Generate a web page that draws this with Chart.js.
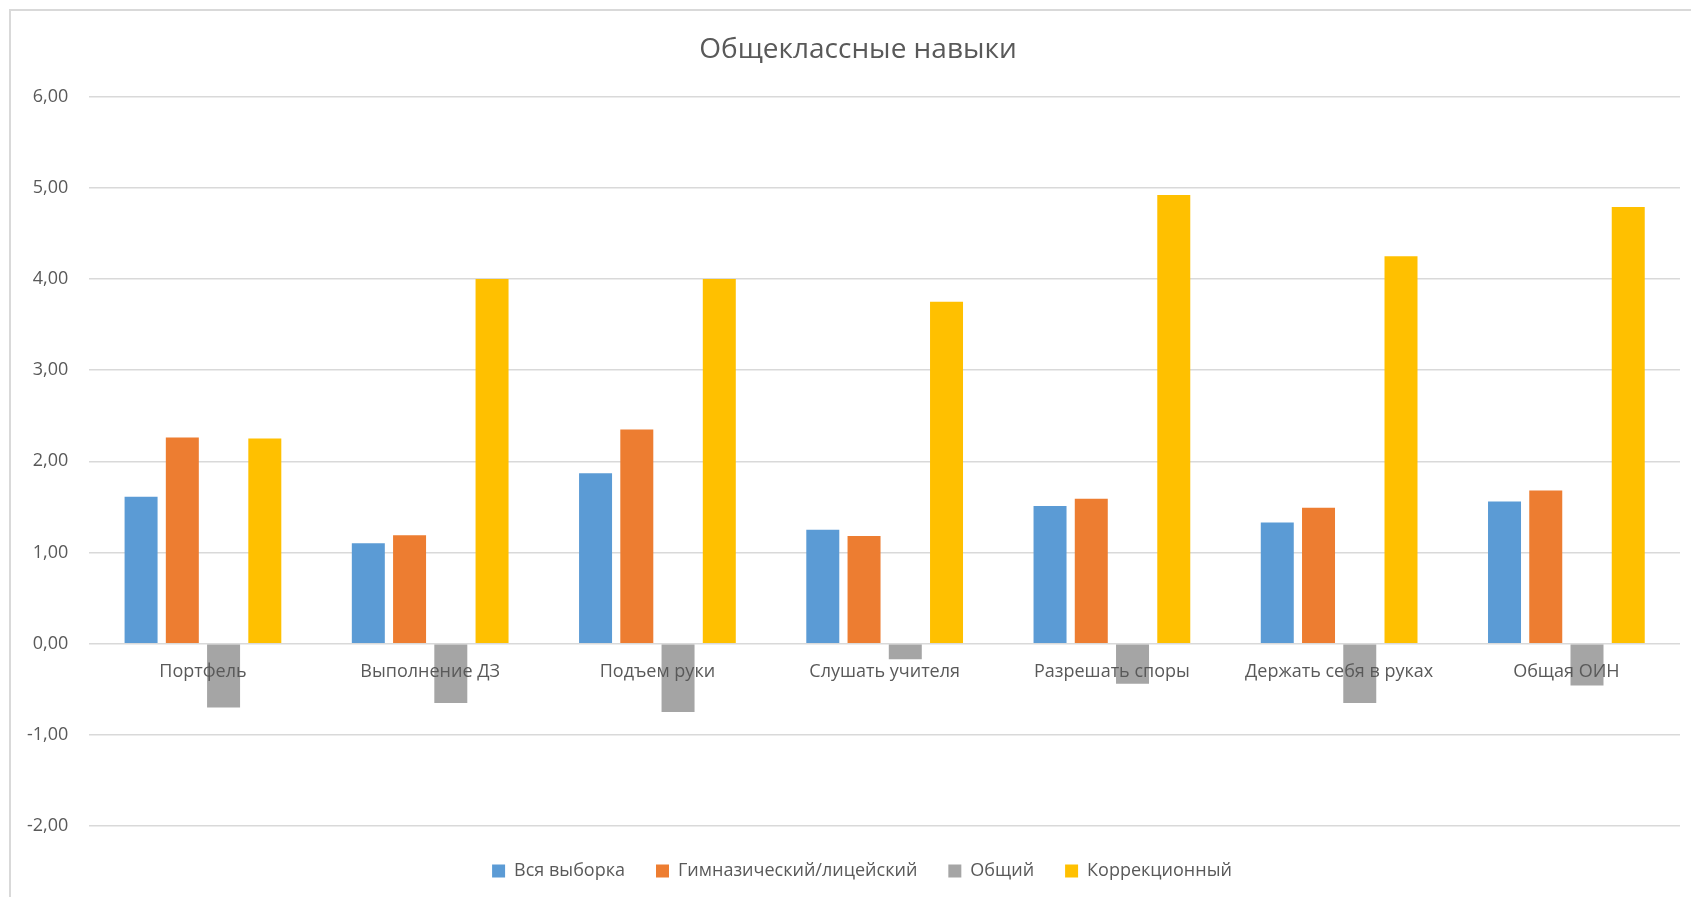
<!DOCTYPE html>
<html>
<head>
<meta charset="utf-8">
<script src="https://cdn.jsdelivr.net/npm/chart.js@4/dist/chart.umd.min.js"></script>
<style>
  body { margin: 0; background: #fff; }
  #wrap { position: absolute; left: 0; top: 0; width: 1691px; height: 897px; }
  #frame { position: absolute; left: 9px; top: 9px; width: 1700px; height: 900px;
           border-left: 2px solid #d9d9d9; border-top: 2px solid #d9d9d9; }
</style>
</head>
<body>
<div id="wrap">
  <div id="frame"></div>
  <canvas id="chart1" width="1691" height="897"></canvas>
</div>
<script>
var categories = ["Портфель", "Выполнение ДЗ", "Подъем руки", "Слушать учителя",
                  "Разрешать споры", "Держать себя в руках", "Общая ОИН"]
var seriesNames = ["Вся выборка", "Гимназический/лицейский", "Общий", "Коррекционный"]
var allSample = [1.61, 1.10, 1.87, 1.25, 1.51, 1.33, 1.56]
var gymnasium = [2.26, 1.19, 2.35, 1.18, 1.59, 1.49, 1.68]
var general   = [-0.70, -0.65, -0.75, -0.17, -0.44, -0.65, -0.46]
var correction = [2.25, 4.00, 4.00, 3.75, 4.92, 4.25, 4.79]
var colors = ["#5b9bd5", "#ed7d31", "#a5a5a5", "#ffc000"]

var font = "'Open Sans', 'Noto Sans', sans-serif"

function makeSet(i, values) {
    return {
        label: seriesNames[i],
        data: values,
        backgroundColor: colors[i],
        borderWidth: 0,
        categoryPercentage: 0.726,
        barPercentage: 0.8
    }
}

// excel centres title and legend on the whole chart frame, nudge them right a bit
var nudgeBoxes = {
    id: "nudgeBoxes",
    afterLayout: function(chart) {
        var t = chart.titleBlock
        t.left += 15
        t.right += 15
        var l = chart.legend
        l.left += 19
        l.right += 19
        l.top += 5
        l.bottom += 5
    }
}

var ctx = document.getElementById("chart1").getContext("2d")
new Chart(ctx, {
    type: "bar",
    data: {
        labels: categories,
        datasets: [
            makeSet(0, allSample),
            makeSet(1, gymnasium),
            makeSet(2, general),
            makeSet(3, correction)
        ]
    },
    plugins: [nudgeBoxes],
    options: {
        responsive: false,
        animation: false,
        layout: { padding: { left: 6, right: 11, top: 0, bottom: 12 } },
        plugins: {
            title: {
                display: true,
                text: "Общеклассные навыки",
                color: "#595959",
                font: { family: font, size: 28, weight: "normal" },
                padding: { top: 33, bottom: 30 }
            },
            legend: {
                position: "bottom",
                labels: {
                    color: "#595959",
                    font: { family: font, size: 18 },
                    boxWidth: 13,
                    boxHeight: 13,
                    padding: 31
                }
            },
            tooltip: { enabled: false }
        },
        scales: {
            x: {
                position: { y: 0 },
                grid: { display: false },
                border: { display: false },
                ticks: {
                    z: 1,
                    color: "#595959",
                    font: { family: font, size: 18 },
                    padding: 9,
                    maxRotation: 0
                }
            },
            y: {
                min: -2,
                max: 6,
                grid: { color: "#d9d9d9", lineWidth: 1.5, drawTicks: false },
                border: { display: false },
                ticks: {
                    stepSize: 1,
                    color: "#595959",
                    font: { family: font, size: 18 },
                    padding: 21,
                    callback: function(v) { return v.toFixed(2).replace(".", ",") }
                }
            }
        }
    }
})
</script>
</body>
</html>
